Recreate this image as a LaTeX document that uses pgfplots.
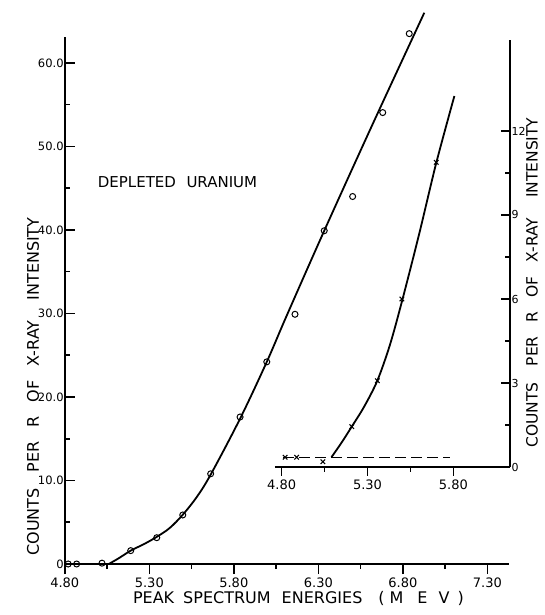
\documentclass[border=0pt]{standalone}
\usepackage{pgfplots}
\pgfplotsset{compat=1.18}
\usepackage{fontspec}
\setmainfont{DejaVu Sans}
\newcommand{\ylab}{COUNTS\hspace{16pt}PER\hspace{14pt}R\hspace{14pt}OF\hspace{14pt}X-RAY\hspace{20pt}INTENSITY}
\begin{document}
\begin{tikzpicture}[x=1pt,y=1pt]
\useasboundingbox (0,0) rectangle (545,615);
% main axis
\begin{axis}[
  at={(64.8pt,51pt)}, anchor=south west,
  scale only axis, width=444.5pt, height=527pt,
  xmin=4.80, xmax=7.43, ymin=0, ymax=63.1,
  axis x line=bottom, axis y line=left,
  axis line style={line width=2pt,-},
  clip=false,
  xtick={4.8,5.3,5.8,6.3,6.8,7.3},
  xticklabels={4.80,5.30,5.80,6.30,6.80,7.30},
  ytick={0,10,20,30,40,50,60},
  yticklabels={0,10.0,20.0,30.0,40.0,50.0,60.0},
  minor x tick num=1, minor y tick num=1,
  xtick align=outside, ytick align=inside,
  major tick length=10pt, minor tick length=5pt,
  every tick/.style={line width=1.6pt,black},
  xticklabel style={font=\fontsize{13}{15}\selectfont},
  yticklabel style={font=\fontsize{11.5}{13}\selectfont,inner sep=1pt},
  /pgf/number format/assume math mode=true,
  xlabel={PEAK\hspace{9pt}SPECTRUM\hspace{11pt}ENERGIES\hspace{16pt}(\hspace{5pt}M\hspace{14pt}E\hspace{11pt}V\hspace{8pt})},
  ylabel={\ylab},
  every axis x label/.style={at={(axis description cs:0.5255,-0.0645)},anchor=center,font=\fontsize{16}{18}\selectfont},
  every axis y label/.style={at={(axis description cs:-0.0715,0.3368)},anchor=center,rotate=90,font=\fontsize{16}{18}\selectfont},
]
\addplot[only marks, mark=o, mark size=3pt, mark options={line width=1pt}] coordinates {
 (4.82,0) (4.87,0) (5.02,0.1) (5.19,1.6) (5.344,3.15) (5.498,5.87) (5.663,10.8)
 (5.837,17.6) (5.995,24.2) (6.162,29.9) (6.335,39.9) (6.503,44.0) (6.681,54.05) (6.838,63.5)
};
\addplot[smooth, line width=1.8pt, tension=0.55] coordinates {
 (5.06,0) (5.12,0.7) (5.19,1.6) (5.27,2.4) (5.344,3.25) (5.42,4.3) (5.498,5.9) (5.58,8.0) (5.663,10.7) (5.837,17.4)
 (5.995,24.2) (6.11,29.6) (6.335,39.9) (6.62,52.6) (6.927,66.0)
};
\node[anchor=west, font=\fontsize{15}{17}\selectfont] at (axis cs:4.975,45.7) {DEPLETED\hspace{0.7em}URANIUM};
\end{axis}
% inset axis
\begin{axis}[
  at={(274.8pt,148pt)}, anchor=south west,
  scale only axis, width=235.2pt, height=427pt,
  xmin=4.76, xmax=6.13, ymin=0, ymax=15.25,
  axis x line=bottom, axis y line=right,
  axis line style={line width=2pt,-},
  clip=false,
  xtick={4.8,5.3,5.8},
  xticklabels={4.80,5.30,5.80},
  ytick={0,3,6,9,12},
  yticklabels={0,3,6,9,12},
  minor x tick num=1, minor y tick num=1,
  xtick align=outside, ytick align=inside,
  major tick length=9pt, minor tick length=5pt,
  every tick/.style={line width=1.6pt,black},
  xticklabel style={font=\fontsize{13}{15}\selectfont},
  yticklabel style={font=\fontsize{11}{13}\selectfont,inner sep=1.5pt},
  /pgf/number format/assume math mode=true,
  ylabel={\ylab},
  every axis y label/.style={at={(axis description cs:1.093,0.432)},anchor=center,rotate=90,inner sep=1pt,font=\fontsize{15.5}{17}\selectfont},
]
\addplot[only marks, mark=x, mark size=3.2pt, mark options={line width=1.1pt}] coordinates {
 (4.82,0.35) (4.887,0.35) (5.04,0.19) (5.208,1.44) (5.357,3.08) (5.50,6.0) (5.70,10.88)
};
\addplot[smooth, line width=1.8pt, tension=0.5] coordinates {
 (5.09,0.35) (5.15,0.88) (5.208,1.44) (5.28,2.15) (5.357,3.08) (5.43,4.35) (5.50,5.9) (5.60,8.3) (5.70,10.85) (5.806,13.25)
};
\addplot[line width=1pt, dash pattern=on 11pt off 5pt] coordinates {
 (4.81,0.35) (5.78,0.35)
};
\end{axis}
\end{tikzpicture}
\end{document}
